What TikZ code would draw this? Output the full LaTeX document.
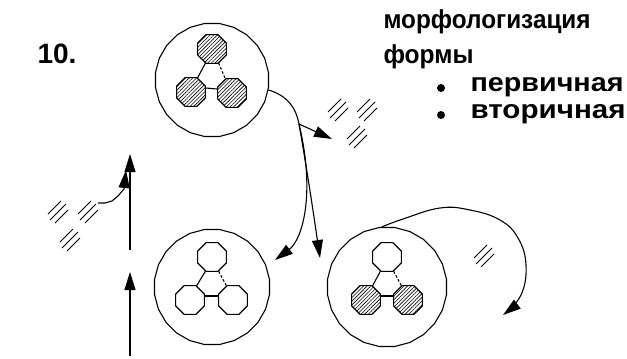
\documentclass[tikz,border=0pt]{standalone}
\usepackage{graphicx}
\usepackage{fontspec}
\setmainfont{Liberation Sans}
\usetikzlibrary{arrows.meta,shapes.geometric,patterns.meta}
\begin{document}
\begin{tikzpicture}[x=1pt,y=-1pt,line width=1.1pt,
  big/.style={draw,regular polygon,regular polygon sides=24,minimum size=#1,inner sep=0pt},
  oct/.style={draw,regular polygon,regular polygon sides=8,minimum size=31pt,inner sep=0pt},
  hat/.style={oct,pattern={Lines[angle=45,distance=2.6pt,line width=0.6pt]}},
  arr/.style={-{Triangle[length=18pt,width=11pt]}},
  lab/.style={font=\bfseries\fontsize{26}{28}\selectfont,inner sep=0pt,anchor=base west},
  dsh/.style={dash pattern=on 2.5pt off 2pt},
  hatchmarks/.pic={
    \draw[line width=0.9pt] (-10,2) -- (3,-11);
    \draw[line width=0.9pt] (-8,8) -- (8,-8);
    \draw[line width=0.9pt] (-3,11) -- (10,-2);
  }]
\useasboundingbox (0,0) rectangle (627,359);

% big circles
\node[big=114pt] (c1) at (212,80) {};
\node[big=116pt] (c2) at (212,287) {};
\node[big=120pt] (c3) at (387,287) {};

% inner figures
\node[hat] (t1) at (212,49) {};
\node[hat] (l1) at (191,92) {};
\node[hat] (r1) at (232,93) {};
\draw (t1.-115) -- (l1.65);
\draw[dsh] (t1.-65) -- (r1.115);
\draw (l1.15) -- (r1.165);

\node[oct] (t2) at (212,257) {};
\node[oct] (l2) at (190,300) {};
\node[oct] (r2) at (233,300) {};
\draw (t2.-115) -- (l2.65);
\draw[dsh] (t2.-65) -- (r2.115);
\draw (l2.15) -- (r2.165);

\node[oct] (t3) at (387,257) {};
\node[hat] (l3) at (366,300) {};
\node[hat] (r3) at (408,300) {};
\draw (t3.-115) -- (l3.65);
\draw[dsh] (t3.-65) -- (r3.115);
\draw (l3.15) -- (r3.165);

% arrows from top circle
\coordinate (s1) at (c1.-10);
\coordinate (j1) at (299,124);
\coordinate (e1) at (332,139);
\coordinate (e2) at (320,258);
\coordinate (e3) at (275,260);
\draw (s1) .. controls (288,96) and (296,108) .. (j1);
\draw[arr] (j1) -- (e1);
\draw[arr] (j1) .. controls (307,170) and (313,210) .. (e2);
\draw[arr] (j1) .. controls (316,195) and (302,240) .. (e3);

% arc from right circle
\coordinate (s3) at (c3.95);
\coordinate (e4) at (503,315);
\draw[arr] plot[smooth,tension=0.7] coordinates {(s3) (403,219) (440,208) (470,210) (500,220) (518,238) (526,265) (521,295) (e4)};

% left vertical arrows
\coordinate (v1a) at (130,250);
\coordinate (v1b) at (130,154);
\coordinate (v2a) at (130,356);
\coordinate (v2b) at (130,272);
\draw[arr] (v1a) -- (v1b);
\draw[arr] (v2a) -- (v2b);
\coordinate (w0) at (98,203);
\coordinate (w1) at (126,170);
\draw[arr] (w0) -- (105,203) -- (112,201) -- (118,196) -- (124,189) -- (w1);

% hatch marks
\pic at (58,212) {hatchmarks};
\pic at (88,212) {hatchmarks};
\pic at (70,240) {hatchmarks};
\pic at (338,110) {hatchmarks};
\pic at (367,110) {hatchmarks};
\pic at (357,137) {hatchmarks};
\pic at (484,256) {hatchmarks};

% texts
\node[lab,font=\bfseries\fontsize{28}{30}\selectfont] (num) at (37,63) {10.};
\node[lab] (m1) at (383,28) {\resizebox{207pt}{\height}{морфологизация}};
\node[lab] (m2) at (383,63) {\resizebox{90pt}{\height}{формы}};
\fill (441,88) circle (4pt);
\fill (441,115) circle (4pt);
\node[lab] (p1) at (470,91) {\resizebox{153pt}{\height}{первичная}};
\node[lab] (p2) at (470,118) {\resizebox{155pt}{\height}{вторичная}};
\end{tikzpicture}
\end{document}
